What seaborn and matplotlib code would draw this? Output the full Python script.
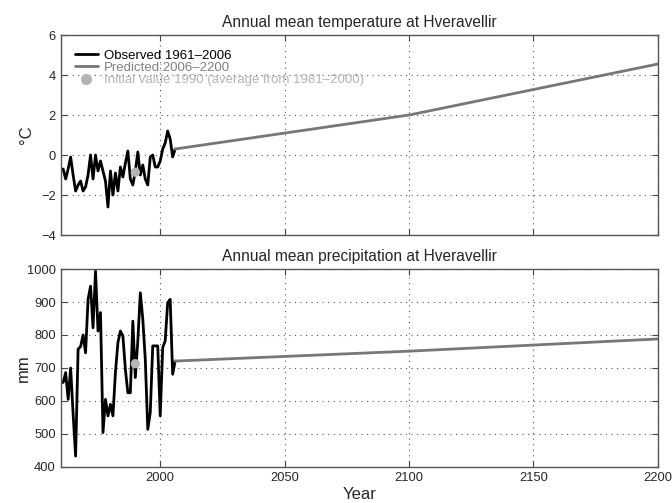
import numpy as np
import pandas as pd
import matplotlib
matplotlib.use("Agg")
import matplotlib.pyplot as plt
import seaborn as sns
from matplotlib.lines import Line2D

# ---- data ----
obs_years = list(range(1961, 2007))
obs_temp = [-0.7, -1.2, -0.7, -0.1, -1.0, -1.8, -1.5, -1.3, -1.8, -1.6,
            -1.0, 0.0, -1.2, 0.0, -0.8, -0.3, -0.8, -1.3, -2.6, -0.8,
            -2.0, -0.9, -1.8, -0.6, -1.1, -0.4, 0.2, -1.2, -1.5, -0.8,
            0.15, -1.0, -0.5, -1.2, -1.5, -0.1, 0.0, -0.6, -0.6, -0.3,
            0.3, 0.6, 1.2, 0.8, -0.1, 0.3]
obs_prec = [656, 686, 605, 700, 560, 433, 757, 765, 800, 746,
            908, 948, 822, 994, 812, 868, 504, 605, 555, 590,
            555, 686, 777, 812, 797, 696, 625, 625, 842, 671,
            782, 928, 848, 726, 514, 565, 767, 767, 767, 555,
            762, 782, 898, 908, 681, 721]
pred_years = [2006, 2100, 2200]
pred_temp = [0.3, 2.0, 4.55]
pred_prec = [721, 751, 788]
init_year = [1990]
init_temp = [-0.86]
init_prec = [713]

sns.set_style("ticks")
plt.rcParams['font.family'] = ['Liberation Sans', 'DejaVu Sans']

fig = plt.figure(figsize=(6.72, 5.03), dpi=100)
ax1 = fig.add_axes([0.0903, 0.5328, 0.8887, 0.3976])
ax2 = fig.add_axes([0.0903, 0.0716, 0.8887, 0.3936])

obs_df = pd.DataFrame({"year": obs_years, "temp": obs_temp, "prec": obs_prec})
pred_df = pd.DataFrame({"year": pred_years, "temp": pred_temp, "prec": pred_prec})
init_df = pd.DataFrame({"year": init_year, "temp": init_temp, "prec": init_prec})

c_obs = "black"
c_pred = "#777777"
c_init = "#b4b4b4"

for ax, col in [(ax1, "temp"), (ax2, "prec")]:
    sns.lineplot(data=obs_df, x="year", y=col, ax=ax, color=c_obs, lw=2.0)
    sns.lineplot(data=pred_df, x="year", y=col, ax=ax, color=c_pred, lw=2.0)
    sns.scatterplot(data=init_df, x="year", y=col, ax=ax, color=c_init, s=45,
                    edgecolor="none", zorder=5)
    ax.set_xlim(1960, 2200)
    ax.set_xticks([2000, 2050, 2100, 2150, 2200])
    ax.grid(True, linestyle=(0, (1, 4)), color="#555555", linewidth=0.8)
    ax.tick_params(direction="in", top=True, right=True, length=4,
                   labelsize=9.3, color="#444444")
    for s in ax.spines.values():
        s.set_color("#555555")
        s.set_linewidth(1.0)

ax1.set_ylim(-4, 6)
ax1.set_yticks([-4, -2, 0, 2, 4, 6])
ax1.set_xticklabels([])
ax1.set_xlabel("")
ax1.set_ylabel("°C", fontsize=12)
ax1.yaxis.set_label_coords(-0.045, 0.5)
ax1.set_title("Annual mean temperature at Hveravellir", fontsize=11.2, pad=6)

ax2.set_ylim(400, 1000)
ax2.set_yticks([400, 500, 600, 700, 800, 900, 1000])
ax2.set_xlabel("Year", fontsize=12, labelpad=2)
ax2.set_ylabel("mm", fontsize=12)
ax2.yaxis.set_label_coords(-0.05, 0.5)
ax2.set_title("Annual mean precipitation at Hveravellir", fontsize=11.2, pad=6)

handles = [Line2D([], [], color=c_obs, lw=2),
           Line2D([], [], color=c_pred, lw=2),
           Line2D([], [], color=c_init, marker="o", lw=0, markersize=7)]
labels = ["Observed 1961\u20132006", "Predicted:2006\u20132200",
          "Initial value 1990 (average from 1981\u20132000)"]
leg = ax1.legend(handles, labels, loc="upper left", frameon=False,
                 fontsize=9.5, handlelength=1.7, borderaxespad=0.7,
                 labelspacing=0.0, handletextpad=0.5)
for t, c in zip(leg.get_texts(), [c_obs, "#808080", c_init]):
    t.set_color(c)

fig.savefig("out.png", dpi=100)
